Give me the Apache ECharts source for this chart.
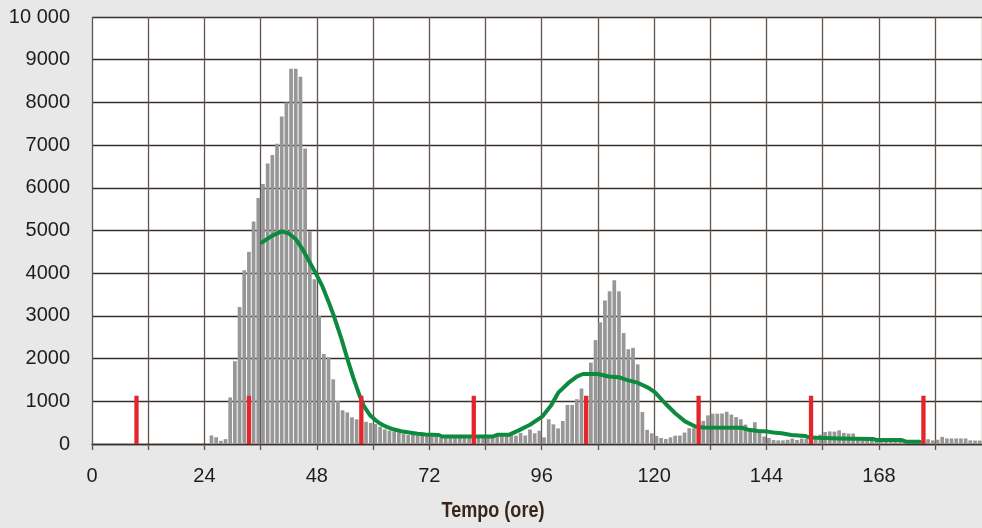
<!DOCTYPE html>
<html><head><meta charset="utf-8">
<script src="https://cdn.jsdelivr.net/npm/echarts@6/dist/echarts.min.js"></script>
<style>html,body{margin:0;padding:0;background:#e8e8e8}#c{width:982px;height:528px}</style>
</head><body><div id="c"></div>
<script>
// Hourly counts: index = hour (0..189), bar spans [hour, hour+1]
const barValues = [
  0,0,0,0,0,0,0,0,0,0, 0,0,0,0,0,0,0,0,0,0, 0,0,0,0,0,
  200,157,75,115,1090,1940,3210,4070,4500,5210,
  5760,6090,6570,6770,7030,7670,8000,8790,8790,8600,
  6920,4980,3860,3000,2110,2030,1515,1007,790,740,
  625,578,560,520,490,470,406,343,312,289,
  265,234,211,211,200,190,190,180,170,140,
  150,140,150,140,150,160,150,140,150,160,
  180,190,200,200,210,195,260,200,340,250,
  310,156,580,460,365,540,915,915,1050,1300,
  1100,1906,2433,2850,3362,3575,3835,3575,2598,2220,
  2252,1866,748,331,252,190,140,117,156,195,
  197,268,370,370,450,540,670,710,710,715,
  755,690,630,580,455,360,510,270,175,140,
  93,85,85,100,128,95,128,125,125,185,
  220,280,295,290,320,260,245,245,145,115,
  110,110,100,95,95,85,80,80,70,65,
  62,62,60,112,85,100,167,130,130,130,
  130,130,85,80,80
];
const redHours = [9, 33, 57, 81, 105, 129, 153, 177];
const redValues = [1130, 1130, 1130, 1130, 1130, 1130, 1130, 1130];
const lineHours = [36.3,38.5,40.5,42,43.5,45,46.5,48,49.2,50.6,51.5,53.2,54.7,55.8,57.2,58,59.3,60.5,61.5,62.7,64.3,66,67.7,69.5,71.2,74,74.8,85.5,86.5,89,91.1,93.5,96.1,98,99.6,101.7,103.5,104.8,108,110.3,112.4,114.5,116.6,118.8,120.2,122.3,124.5,126.6,128.8,130.5,138.7,140.1,142.2,144.3,145.4,147.2,149.3,152.2,153.2,159.2,166.7,167.4,172.7,173.8,176.7];
const lineValues = [4720,4880,4980,4930,4800,4550,4250,3950,3690,3300,3040,2480,1930,1550,1110,900,680,560,480,410,345,300,270,240,220,211,175,175,215,215,320,450,640,900,1210,1430,1580,1640,1640,1580,1565,1490,1430,1315,1210,960,720,530,410,385,380,335,307,290,268,252,213,190,150,130,120,95,95,55,50];
const xTickValues = [0, 24, 48, 72, 96, 120, 144, 168];
const xTickTexts = ['0', '24', '48', '72', '96', '120', '144', '168'];
const yTickValues = [0,1000,2000,3000,4000,5000,6000,7000,8000,9000,10000];
const yTickTexts = ['0','1000','2000','3000','4000','5000','6000','7000','8000','9000','10 000'];
const xTitle = 'Tempo (ore)';

const chart = echarts.init(document.getElementById('c'), null, {renderer: 'canvas'});
const labelFont = "'Liberation Sans', Arial, sans-serif";
const xBase = {type: 'value', min: 0, max: 190, interval: 12};
chart.setOption({
  animation: false,
  backgroundColor: '#e8e8e8',
  graphic: [{
    type: 'text', x: 493, y: 511, scaleX: 0.82, z: 10,
    style: {
      text: xTitle, font: "bold 22px 'Liberation Sans', Arial, sans-serif", fill: '#3a2618',
      align: 'center', verticalAlign: 'middle', textAlign: 'center', textVerticalAlign: 'middle'
    }
  }],
  grid: {left: 92, right: -3, top: 17, bottom: 84, show: true, backgroundColor: '#ffffff', borderWidth: 0},
  xAxis: [
    Object.assign({}, xBase, {
      axisLine: {show: true, onZero: false, lineStyle: {color: '#3b2f29', width: 1.3}},
      axisTick: {show: true, length: 6, lineStyle: {color: '#5e544e', width: 1.3}},
      axisLabel: {
        margin: 22, fontSize: 20, fontFamily: labelFont, color: '#1d1d1b',
        showMinLabel: true, showMaxLabel: false,
        formatter: function (v) { const i = xTickValues.indexOf(v); return i >= 0 ? xTickTexts[i] : ''; }
      },
      splitLine: {show: true, lineStyle: {color: '#5e544e', width: 1.3}}
    }),
    Object.assign({}, xBase, {show: false, splitLine: {show: false}})
  ],
  yAxis: {
    type: 'value', min: 0, max: 10000, interval: 1000,
    axisLine: {show: false}, axisTick: {show: false},
    axisLabel: {
      margin: 22, fontSize: 20, fontFamily: labelFont, color: '#1d1d1b',
      formatter: function (v) { const i = yTickValues.indexOf(v); return i >= 0 ? yTickTexts[i] : ''; }
    },
    splitLine: {show: true, lineStyle: {color: '#3b2f29', width: 1.3}}
  },
  series: [
    {
      type: 'bar', xAxisIndex: 0, barWidth: 3.7, z: 2,
      itemStyle: {color: '#979797'},
      data: barValues.map((v, i) => [i + 0.5, v])
    },
    {
      type: 'line', xAxisIndex: 0, z: 3, showSymbol: false, symbol: 'none',
      lineStyle: {color: '#0e8a3f', width: 4, cap: 'round', join: 'round'},
      data: lineHours.map((h, i) => [h, lineValues[i]])
    },
    {
      type: 'bar', xAxisIndex: 1, barWidth: 4.3, z: 4,
      itemStyle: {color: '#e3262b'},
      data: redHours.map((h, i) => [h + 0.5, redValues[i]])
    }
  ]
});
</script></body></html>
